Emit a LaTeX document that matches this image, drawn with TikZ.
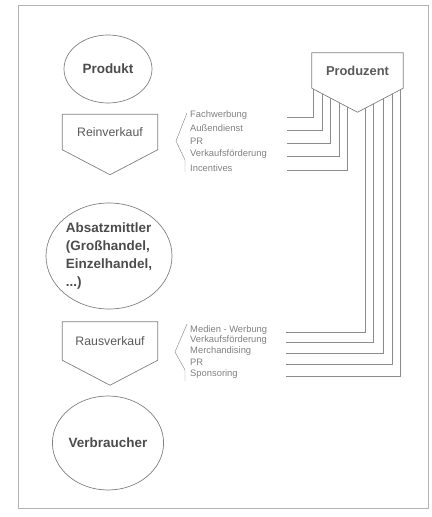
\documentclass[tikz,border=0pt]{standalone}
\usepackage{fontspec}
\setmainfont{Liberation Sans}
\usetikzlibrary{shapes.geometric}

\tikzset{
  roundNode/.style={ellipse, draw=black!50, line width=0.6pt, inner sep=0pt, text=black!70,
    font=\fontsize{11.5}{15.5}\selectfont\bfseries},
  tagBox/.style={rectangle, inner sep=0pt, minimum width=2.85cm, minimum height=1.05cm,
    text=black!65, font=\fontsize{10.5}{12}\selectfont},
  tagLine/.style={draw=black!50, line width=0.6pt},
  toolLine/.style={draw=black!45},
  toolText/.style={anchor=west, inner sep=0pt, text=black!50, font=\fontsize{8}{9}\selectfont},
}

\begin{document}
\begin{tikzpicture}[x=0.03cm, y=-0.03cm]
  \useasboundingbox (0,0) rectangle (432,517);

  % outer frame
  \draw[black!30] (18,5) rectangle (428,508);

  % left column
  \node[roundNode, minimum width=2.64cm, minimum height=2.04cm] (produkt) at (108,69) {Produkt};
  \node[tagBox] (rein) at (110,132) {Reinverkauf};
  \node[roundNode, minimum width=3.78cm, minimum height=3.18cm, align=left] (absatz) at (109,256)
    {Absatzmittler\\(Großhandel,\\Einzelhandel,\\...)};
  \node[tagBox, minimum height=1.14cm] (raus) at (110,341) {Rausverkauf};
  \node[roundNode, minimum width=3.06cm, minimum height=2.82cm] (verb) at (108,443) {Verbraucher};

  % producer
  \node[tagBox, minimum width=2.73cm, font=\fontsize{11}{12}\selectfont\bfseries] (prod) at (357.5,70.5) {Produzent};

  % lines to the push tools
  \foreach \lx/\ly/\txt [count=\i] in {313/117/Fachwerbung, 322/130/Außendienst, 330/143/PR,
      339/156/Verkaufsförderung, 347/170/Incentives} {
    \node[toolText] (pushTool\i) at (190,\ly-2) {\txt};
    \coordinate (pushEnd\i) at (287,\ly);
    \draw[toolLine] (\lx,0 |- prod.south) |- (pushEnd\i);
  }

  % lines to the pull tools
  \foreach \lx/\ly/\txt [count=\i] in {365/332/Medien - Werbung, 373/342/Verkaufsförderung,
      383/353/Merchandising, 392/364/PR, 400/376/Sponsoring} {
    \node[toolText] (pullTool\i) at (190,\ly-2) {\txt};
    \coordinate (pullEnd\i) at (286,\ly);
    \draw[toolLine] (\lx,0 |- prod.south) |- (pullEnd\i);
  }

  % pointed boxes
  \coordinate (reinTip) at ([yshift=-0.75cm]rein.south);
  \coordinate (rausTip) at ([yshift=-0.75cm]raus.south);
  \coordinate (prodTip) at ([yshift=-0.72cm]prod.south);
  \fill[white] (prod.south west) -- (prodTip) -- (prod.south east) -- cycle;
  \draw[tagLine] (rein.north west) -- (rein.north east) -- (rein.south east) -- (reinTip) -- (rein.south west) -- cycle;
  \draw[tagLine] (raus.north west) -- (raus.north east) -- (raus.south east) -- (rausTip) -- (raus.south west) -- cycle;
  \draw[tagLine] (prod.north west) -- (prod.north east) -- (prod.south east) -- (prodTip) -- (prod.south west) -- cycle;

  % brackets
  \draw[toolLine] (187,113) -- (176,141) -- (185,160) -- (185,172);
  \draw[toolLine] (187,324) -- (175,352) -- (185,370) -- (185,381);

\end{tikzpicture}
\end{document}
